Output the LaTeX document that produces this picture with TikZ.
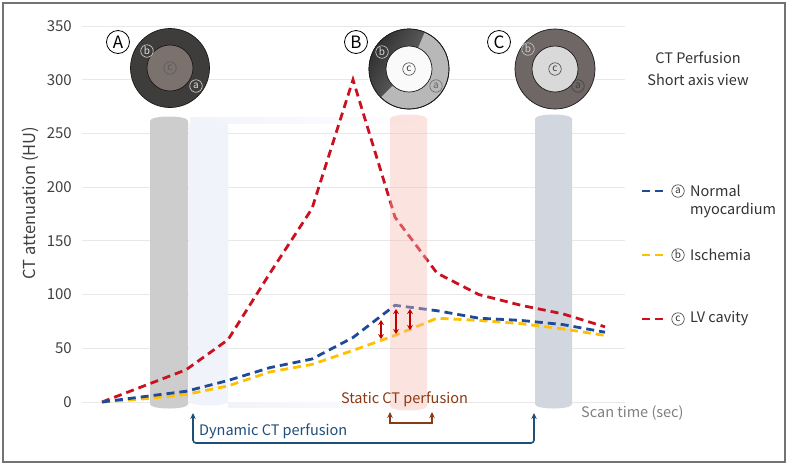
\documentclass[tikz,border=0pt]{standalone}
\usepackage{fontspec}
\setmainfont{Noto Sans CJK KR}
\usetikzlibrary{arrows.meta}
\definecolor{cred}{HTML}{CC1020}
\definecolor{cblue}{HTML}{1F4A9A}
\definecolor{cyel}{HTML}{FFC000}
\definecolor{cnavy}{HTML}{1F4E79}
\definecolor{cbrown}{HTML}{8B3A13}
\definecolor{darrow}{HTML}{C00000}
\definecolor{ghost}{HTML}{F1F3FA}
\newcommand\myfs[1]{\fontsize{#1}{#1}\selectfont}
\newcommand\mycyl[5]{\path[#5] (#1,#3+4) .. controls (#1,#3-2) and (#2,#3-2) .. (#2,#3+4) -- (#2,#4-4) .. controls (#2,#4+2) and (#1,#4+2) .. (#1,#4-4) -- cycle;}
\tikzset{
  curve/.style={line width=2.8pt, dash pattern=on 8pt off 5pt},
  gridl/.style={draw=black!9, line width=0.9pt},
  ticklab/.style={anchor=east, font=\myfs{15}, text=black!75, inner sep=0pt},
  biglab/.style={circle, draw=black, line width=0.8pt, fill=white, inner sep=0pt, minimum size=23pt, font=\myfs{17}},
  sl/.style={circle, draw, line width=0.6pt, inner sep=0pt, minimum size=12.5pt, font=\myfs{10}},
  txt/.style={font=\myfs{14.5}, text=black!80, inner sep=0pt},
  darr/.style={darrow, line width=1.6pt, {Stealth[length=5pt,width=6pt]}-{Stealth[length=5pt,width=6pt]}},
}
\begin{document}
\begin{tikzpicture}[x=1pt,y=-1pt]
\useasboundingbox (0,0) rectangle (792,467);
\fill[white] (0,0) rectangle (792,467);
\draw[black!55, line width=1.2pt] (3,3) rectangle (785,462);
% grid
\foreach \v/\yy in {0/402,50/348.3,100/294.6,150/240.9,200/187.1,250/133.4,300/79.7,350/26} {
  \draw[gridl] (82,\yy) -- (625,\yy);
  \node[ticklab] (tick\v) at (72,\yy) {\v};
}
\node[txt, font=\myfs{16.5}, rotate=90, text=black!75] (ylab) at (30,203) {CT attenuation (HU)};
% ghost
\shade[left color=ghost, right color=white] (190,117) rectangle (430,123);
\mycyl{189}{228}{121}{405}{fill=ghost}
\shade[left color=ghost, right color=white] (228,402) rectangle (430,407);
% gray cylinders
\mycyl{150}{188}{117}{408}{fill={rgb,255:red,206;green,205;blue,205}}
\mycyl{535}{572}{115}{408}{fill={rgb,255:red,210;green,215;blue,223}}
% curves
\draw[curve, cred] (102,402) -- (144,385.9) -- (186,369.8) -- (228,339.7) -- (270,273.1) -- (312,208.6) -- (353,79.7) -- (395,217.2) -- (437,273.1) -- (479,294.6) -- (521,305.3) -- (563,313.9) -- (605,326.8);
\draw[curve, cyel] (102,402) -- (144,398.8) -- (186,394.5) -- (228,385.9) -- (270,371.9) -- (312,364.4) -- (353,350.4) -- (395,335.4) -- (437,318.2) -- (479,320.4) -- (521,323.6) -- (563,328.9) -- (605,335.4);
\draw[curve, cblue] (102,402) -- (144,396.6) -- (186,391.3) -- (228,380.5) -- (270,367.6) -- (312,359.0) -- (353,337.5) -- (395,305.3) -- (437,310.7) -- (479,318.2) -- (521,320.4) -- (563,324.6) -- (605,332.2);
% pink cylinder
\mycyl{390}{427}{115}{410}{fill={rgb,255:red,247;green,185;blue,176}, opacity=0.4}
% double arrows
\coordinate (u1) at (381,320); \coordinate (d1) at (381,339);
\coordinate (u2) at (396,309); \coordinate (d2) at (396,334);
\coordinate (u3) at (410,309); \coordinate (d3) at (410,330);
\draw[darr] (u1) -- (d1);
\draw[darr] (u2) -- (d2);
\draw[darr] (u3) -- (d3);
% ring A
\node[circle, draw=black!90, line width=0.7pt, fill={rgb,255:red,63;green,61;blue,60}, minimum size=79pt, inner sep=0pt] (ringA) at (170,68) {};
\node[circle, draw=black!90, line width=0.7pt, fill={rgb,255:red,123;green,113;blue,109}, minimum size=46pt, inner sep=0pt] (innerA) at (170,68) {};
\node[sl, draw=black!65, text=black!65] (cA) at (170,68) {c};
\node[sl, draw=white!88!black, text=white!88!black] (bA) at (147,51) {b};
\node[sl, draw=white!88!black, text=white!88!black] (aA) at (196,86) {a};
\node[biglab] (labA) at (118,42) {A};
% ring B
\node[circle, draw=black!90, line width=0.7pt, fill={rgb,255:red,184;green,184;blue,184}, minimum size=80pt, inner sep=0pt] (ringB) at (409,69) {};
\shade[left color={rgb,255:red,40;green,40;blue,40}, right color={rgb,255:red,110;green,110;blue,110}, shading angle=60] (409,69) -- ++(67:40pt) arc[start angle=67, end angle=225, radius=40pt] -- cycle;
\draw[black!90, line width=0.7pt] (409,69) circle[radius=40pt];
\node[circle, draw=black!90, line width=0.7pt, fill=white!98!black, minimum size=46pt, inner sep=0pt] (innerB) at (409,69) {};
\node[sl, draw=black!75, text=black!75] (cB) at (409,69) {c};
\node[sl, draw=white!85!black, text=white!85!black] (bB) at (382,52) {b};
\node[sl, draw=black!60, text=black!60] (aB) at (436,86) {a};
\node[biglab] (labB) at (356,42) {B};
% ring C
\node[circle, draw=black!90, line width=0.7pt, fill={rgb,255:red,110;green,103;blue,101}, minimum size=80pt, inner sep=0pt] (ringC) at (555,69) {};
\node[circle, draw=black!90, line width=0.7pt, fill={rgb,255:red,217;green,217;blue,217}, minimum size=46pt, inner sep=0pt] (innerC) at (555,69) {};
\node[sl, draw=black!75, text=black!75] (cC) at (555,69) {c};
\node[sl, draw=white!82!black, text=white!82!black] (bC) at (528,49) {b};
\node[sl, draw=black!75, text=black!75] (aC) at (578,86) {a};
\node[biglab] (labC) at (499,42) {C};
% title
\node[txt] (t1) at (698,58) {CT Perfusion};
\node[txt] (t2) at (698,80) {Short axis view};
% legend
\coordinate (la1) at (642,191); \coordinate (la2) at (663,191);
\draw[curve, cblue] (la1) -- (la2);
\node[sl, draw=black!80, text=black!80] (lga) at (678,191) {a};
\node[txt, anchor=west] (lgn) at (690,191) {Normal};
\node[txt, anchor=west] (lgm) at (690,210) {myocardium};
\coordinate (lb1) at (642,255); \coordinate (lb2) at (663,255);
\draw[curve, cyel] (lb1) -- (lb2);
\node[sl, draw=black!80, text=black!80] (lgb) at (678,255) {b};
\node[txt, anchor=west] (lgi) at (690,255) {Ischemia};
\coordinate (lc1) at (642,319); \coordinate (lc2) at (663,319);
\draw[curve, cred] (lc1) -- (lc2);
\node[sl, draw=black!80, text=black!80] (lgc) at (678,319) {c};
\node[txt, anchor=west] (lgl) at (690,319) {LV cavity};
% axis text
\node[txt, anchor=west, text=black!50] (scan) at (581,413) {Scan time (sec)};
\node[txt, text=cbrown] (stat) at (404.5,399) {Static CT perfusion};
\node[txt, anchor=west, text=cnavy] (dyn) at (199,431) {Dynamic CT perfusion};
% brackets
\coordinate (dl) at (193,413); \coordinate (dr) at (534,413); \coordinate (dc) at (534,443);
\draw[cnavy, line width=1.6pt, rounded corners=3pt, {Stealth[length=6pt,width=5.5pt]}-{Stealth[length=6pt,width=5.5pt]}] (dl) |- (dc) -- (dr);
\coordinate (sl) at (390,412); \coordinate (sr) at (432,412); \coordinate (sc) at (432,423);
\draw[cbrown, line width=1.6pt, {Stealth[length=6pt,width=5.5pt]}-{Stealth[length=6pt,width=5.5pt]}] (sl) |- (sc) -- (sr);
\end{tikzpicture}
\end{document}
